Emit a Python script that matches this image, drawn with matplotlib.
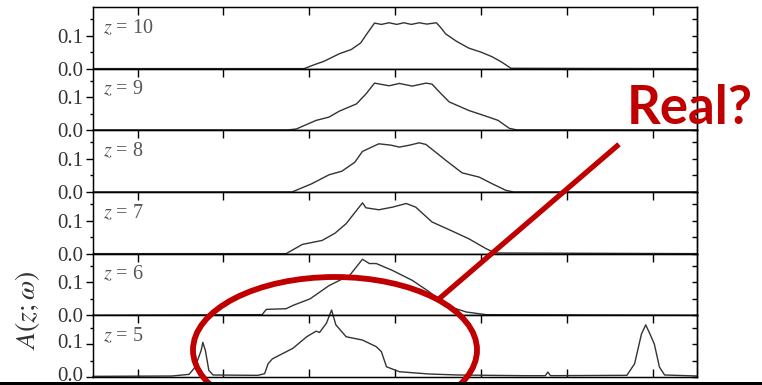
import matplotlib
matplotlib.use('Agg')
import matplotlib.pyplot as plt
from matplotlib.patches import Ellipse, Rectangle
from matplotlib.lines import Line2D
from matplotlib.ticker import MultipleLocator
from matplotlib.transforms import ScaledTranslation

plt.rcParams['font.family'] = ['Liberation Serif', 'DejaVu Serif']
plt.rcParams['mathtext.fontset'] = 'stix'

# spectral function A(z;w) for z = 10 ... 5
z_values = [10, 9, 8, 7, 6, 5]

w10 = [-3.52, -1.06, -0.94, -0.83, -0.65, -0.51, -0.40, -0.33, -0.24, -0.16, -0.07,
       0.02, 0.10, 0.19, 0.28, 0.37, 0.48, 0.53, 0.59, 0.72, 0.86, 1.00, 1.13, 1.24, 1.35, 3.52]
a10 = [0, 0, 0.012, 0.022, 0.045, 0.058, 0.078, 0.105, 0.138, 0.134, 0.139,
       0.134, 0.139, 0.134, 0.139, 0.135, 0.139, 0.125, 0.105, 0.082, 0.062, 0.050, 0.036, 0.020, 0.001, 0]

w9 = [-3.52, -1.25, -1.15, -1.08, -0.92, -0.77, -0.65, -0.45, -0.34, -0.24, -0.07,
      0.05, 0.20, 0.36, 0.43, 0.52, 0.63, 0.86, 1.09, 1.20, 1.33, 1.42, 3.52]
a9 = [0.001, 0.001, 0.004, 0.012, 0.030, 0.040, 0.058, 0.080, 0.110, 0.143, 0.135,
      0.142, 0.134, 0.143, 0.140, 0.115, 0.086, 0.060, 0.040, 0.030, 0.006, 0.001, 0.001]

w8 = [-3.52, -1.20, -0.97, -0.77, -0.62, -0.47, -0.38, -0.19, -0.05, 0.05, 0.17,
      0.28, 0.36, 0.59, 0.78, 0.98, 1.13, 1.29, 1.38, 3.52]
a8 = [0, 0, 0.025, 0.052, 0.063, 0.090, 0.123, 0.146, 0.142, 0.136, 0.142,
      0.149, 0.144, 0.096, 0.058, 0.045, 0.025, 0.005, 0, 0]

w7 = [-3.52, -1.27, -1.08, -0.85, -0.70, -0.57, -0.38, -0.34, -0.19, -0.03, 0.13,
      0.24, 0.43, 0.66, 0.86, 1.06, 1.17, 3.52]
a7 = [0, 0, 0.028, 0.040, 0.062, 0.091, 0.154, 0.139, 0.133, 0.141, 0.152,
      0.141, 0.096, 0.069, 0.045, 0.015, 0.002, 0]

w6 = [-3.52, -1.55, -1.50, -1.27, -1.19, -0.99, -0.77, -0.53, -0.38, -0.30, -0.22,
      -0.03, 0.20, 0.40, 0.59, 0.83, 1.06, 3.52]
a6 = [0, 0.002, 0.018, 0.020, 0.030, 0.050, 0.090, 0.121, 0.170, 0.157, 0.157,
      0.136, 0.106, 0.071, 0.030, 0.010, 0.002, 0]

w5 = [-3.52, -2.60, -2.40, -2.33, -2.26, -2.24, -2.21, -2.17, -2.12, -1.60, -1.52,
      -1.48, -1.43, -1.37, -1.19, -1.03, -0.92, -0.88, -0.80, -0.74, -0.69, -0.57,
      -0.38, -0.22, -0.16, -0.10, 0.05, 0.40, 0.74, 1.50, 1.75, 1.78, 1.81, 2.70,
      2.79, 2.87, 2.92, 2.97, 3.02, 3.08, 3.14, 3.52]
a5 = [0.002, 0.003, 0.008, 0.030, 0.080, 0.105, 0.080, 0.020, 0.006, 0.005, 0.010,
      0.040, 0.055, 0.063, 0.087, 0.122, 0.139, 0.135, 0.163, 0.203, 0.158, 0.122,
      0.112, 0.092, 0.077, 0.031, 0.016, 0.009, 0.006, 0.004, 0.004, 0.015, 0.004, 0.005,
      0.040, 0.130, 0.158, 0.130, 0.100, 0.030, 0.006, 0.003]

omegas = [w10, w9, w8, w7, w6, w5]
spectra = [a10, a9, a8, a7, a6, a5]

fig, axes = plt.subplots(6, 1, sharex=True, figsize=(7.62, 3.85), dpi=100,
                         gridspec_kw={'hspace': 0})
fig.subplots_adjust(left=0.122, right=0.915, top=0.982, bottom=0.0208)

for i, ax in enumerate(axes):
    ax.plot(omegas[i], spectra[i], color='#333333', lw=1.0, clip_on=(i != 5))
    ax.set_xlim(-3.52, 3.52)
    ax.set_ylim(0, 0.187)
    ax.xaxis.set_major_locator(MultipleLocator(1))
    ax.yaxis.set_major_locator(MultipleLocator(0.1))
    ax.yaxis.set_minor_locator(MultipleLocator(0.05))
    ax.set_yticks([0.0, 0.1])
    ax.set_yticklabels(['0.0', '0.1'], fontsize=15, color='#333333')
    ax.tick_params(axis='x', which='both', direction='in', top=True, bottom=(i == 5),
                   labelbottom=False, length=5.5, width=1)
    ax.tick_params(axis='y', which='major', direction='out', length=5, width=1, pad=2)
    ax.tick_params(axis='y', which='minor', direction='out', length=2.5, width=1)
    for s in ax.spines.values():
        s.set_linewidth(1.0)
    # inward ticks on the right side
    ax2 = ax.twinx()
    ax2.set_ylim(0, 0.187)
    ax2.yaxis.set_major_locator(MultipleLocator(0.1))
    ax2.yaxis.set_minor_locator(MultipleLocator(0.05))
    ax2.tick_params(axis='y', which='both', direction='in', length=3.5, width=1,
                    labelright=False)
    ax2.spines['right'].set_linewidth(1.0)
    ax.text(0.017, 0.656, r'$z$ = %d' % z_values[i], transform=ax.transAxes,
            fontsize=14.5, color='#555555', va='center', ha='left')

# lift the lowest "0.0" a little so it sits above the dark band
for lab in axes[-1].get_yticklabels():
    lab.set_transform(lab.get_transform() + ScaledTranslation(0, 2 / 72, fig.dpi_scale_trans))

fig.text(27 / 762, 1 - 310 / 385, r'$A(z;\omega)$', rotation=90, fontsize=20,
         ha='center', va='center', color='#333333')

# red annotation
red = '#C00000'
ell = Ellipse((335 / 762, 1 - 350 / 385), 284 / 762, 146 / 385, transform=fig.transFigure,
              fill=False, edgecolor=red, lw=4.2, zorder=10)
fig.add_artist(ell)
fig.add_artist(Line2D([440 / 762, 617 / 762], [1 - 298 / 385, 1 - 146 / 385],
                      transform=fig.transFigure, color=red, lw=3.8, zorder=10))
fig.text(690 / 762, 1 - 108 / 385, 'Real?', family=['Lato', 'DejaVu Sans'],
         fontweight='bold', fontsize=38, color=red, ha='center', va='center', zorder=11)

# dark band along the bottom edge
fig.add_artist(Rectangle((0, 0), 1, 3.5 / 385, transform=fig.transFigure,
                         facecolor='black', edgecolor='none', zorder=12))

plt.savefig('out.png', dpi=100)
